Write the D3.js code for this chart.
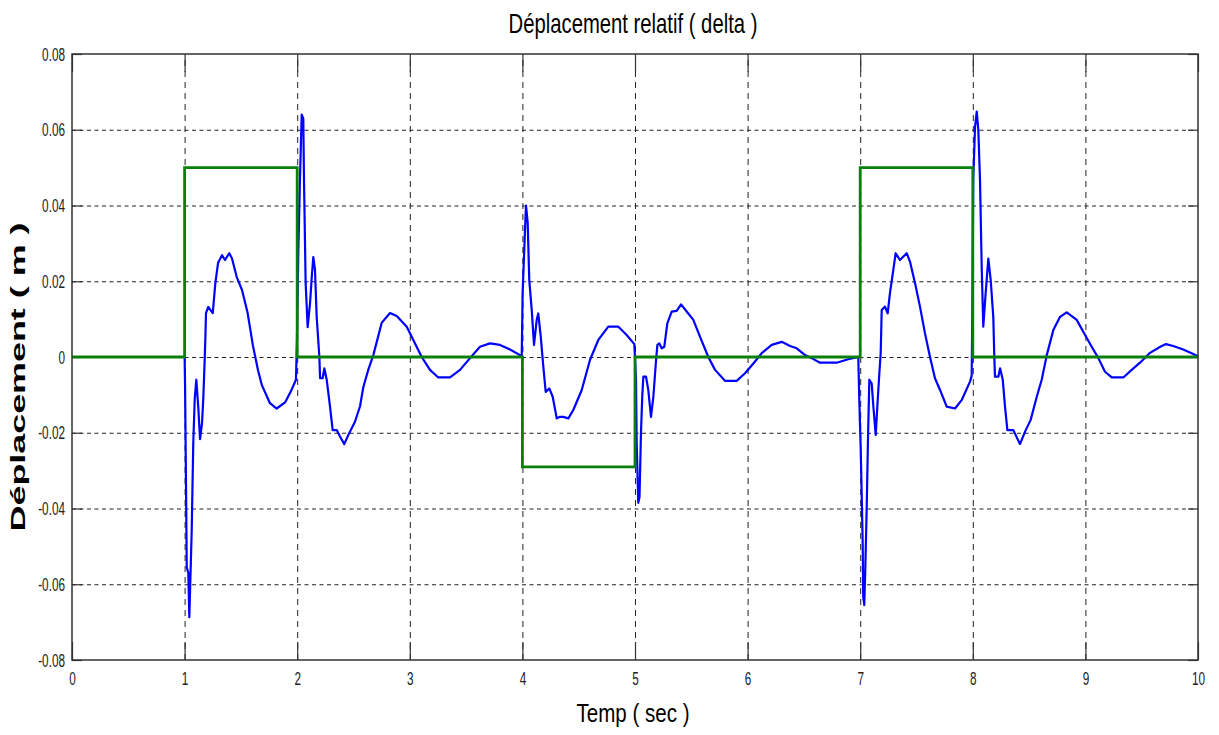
<!DOCTYPE html>
<html>
<head>
<meta charset="utf-8">
<title>Déplacement relatif</title>
<script src="https://cdn.jsdelivr.net/npm/d3@7"></script>
<style>
    html, body { margin: 0; padding: 0; background: #fff; }
    svg.main { display: block; font-family: Arial, "Liberation Sans", sans-serif; }
</style>
</head>
<body>
<svg class="main" width="1219" height="735"></svg>
<script>
    // ticks
    var xTicks = [0, 1, 2, 3, 4, 5, 6, 7, 8, 9, 10];
    var yTicks = [-0.08, -0.06, -0.04, -0.02, 0, 0.02, 0.04, 0.06, 0.08];
    var yTickLabels = ["-0.08", "-0.06", "-0.04", "-0.02", "0", "0.02", "0.04", "0.06", "0.08"];

    // consigne (vert)
    var stepTime  = [0, 1, 1, 2, 2, 4, 4, 5, 5, 7, 7, 8, 8, 10];
    var stepValue = [0, 0, 0.05, 0.05, 0, 0, -0.029, -0.029, 0, 0, 0.05, 0.05, 0, 0];

    // deplacement relatif (bleu)
    var respTime = [0, 1.0, 1.004, 1.012, 1.019, 1.033, 1.042, 1.063, 1.077, 1.090, 1.104, 1.122, 1.137, 1.155, 1.166,
        1.178, 1.184, 1.190, 1.210, 1.250, 1.273, 1.297, 1.332, 1.359, 1.397, 1.421, 1.463, 1.510, 1.560, 1.607,
        1.652, 1.687, 1.758, 1.818, 1.892, 1.945, 1.989, 1.998, 2.010, 2.025, 2.040, 2.054, 2.060, 2.075, 2.093,
        2.114, 2.129, 2.143, 2.158, 2.173, 2.197, 2.203, 2.226, 2.241, 2.262, 2.291, 2.315, 2.351, 2.380, 2.418,
        2.454, 2.513, 2.558, 2.587, 2.631, 2.676, 2.750, 2.824, 2.884, 2.973, 3.031, 3.106, 3.179, 3.253, 3.357,
        3.446, 3.535, 3.623, 3.712, 3.801, 3.890, 3.979, 3.994, 4.002, 4.023, 4.032, 4.047, 4.061, 4.083, 4.103,
        4.127, 4.141, 4.163, 4.186, 4.207, 4.239, 4.269, 4.305, 4.334, 4.363, 4.408, 4.452, 4.527, 4.600, 4.674,
        4.763, 4.852, 4.926, 4.994, 5.009, 5.015, 5.029, 5.040, 5.053, 5.065, 5.074, 5.098, 5.118, 5.142, 5.163,
        5.187, 5.199, 5.216, 5.237, 5.260, 5.287, 5.326, 5.370, 5.409, 5.459, 5.518, 5.577, 5.651, 5.711, 5.799,
        5.903, 5.977, 6.051, 6.125, 6.214, 6.303, 6.377, 6.436, 6.510, 6.569, 6.643, 6.791, 6.894, 6.983, 6.992,
        7.004, 7.013, 7.022, 7.027, 7.036, 7.045, 7.058, 7.069, 7.081, 7.102, 7.117, 7.138, 7.152, 7.170, 7.182,
        7.191, 7.220, 7.244, 7.264, 7.294, 7.315, 7.353, 7.413, 7.442, 7.487, 7.531, 7.575, 7.620, 7.664, 7.709,
        7.768, 7.842, 7.901, 7.975, 7.990, 7.997, 8.004, 8.020, 8.035, 8.049, 8.064, 8.079, 8.093, 8.114, 8.138,
        8.159, 8.182, 8.191, 8.197, 8.227, 8.242, 8.266, 8.286, 8.307, 8.360, 8.419, 8.464, 8.514, 8.568, 8.612,
        8.657, 8.715, 8.775, 8.834, 8.923, 8.997, 9.056, 9.115, 9.174, 9.234, 9.337, 9.411, 9.485, 9.574, 9.665,
        9.716, 9.780, 9.869, 9.943, 10];
    var respValue = [0, 0, -0.007, -0.0325, -0.0555, -0.057, -0.0687, -0.046, -0.0227, -0.011, -0.006, -0.0135, -0.0217, -0.0174, -0.011,
        -0.001, 0.0045, 0.0116, 0.0132, 0.0116, 0.0195, 0.0248, 0.0269, 0.0256, 0.0274, 0.026, 0.0211, 0.0177, 0.0116, 0.003,
        -0.0035, -0.0075, -0.0122, -0.0136, -0.012, -0.009, -0.006, 0.005, 0.028, 0.0475, 0.064, 0.063, 0.0475, 0.0195, 0.0079,
        0.0142, 0.021, 0.0264, 0.023, 0.0106, 0, -0.0056, -0.0056, -0.003, -0.006, -0.013, -0.0193, -0.0193, -0.021, -0.023,
        -0.0206, -0.0171, -0.013, -0.008, -0.0034, 0.0005, 0.009, 0.0116, 0.0108, 0.008, 0.0045, 0, -0.0034, -0.0054, -0.0054,
        -0.0034, -0.0003, 0.0027, 0.0036, 0.0032, 0.002, 0.0005, 0, 0.0169, 0.0335, 0.040, 0.0354, 0.0203, 0.0124, 0.0032,
        0.0098, 0.0115, 0.0054, -0.0026, -0.0092, -0.0083, -0.0105, -0.0162, -0.0158, -0.0158, -0.0162, -0.014, -0.0087, -0.0008, 0.0045,
        0.008, 0.008, 0.0058, 0.0034, -0.006, -0.0227, -0.0385, -0.037, -0.02, -0.01, -0.0052, -0.0052, -0.0087, -0.0158, -0.0105,
        -0.0008, 0.0032, 0.0036, 0.0023, 0.0027, 0.0089, 0.012, 0.0122, 0.0139, 0.012, 0.0098, 0.0054, 0, -0.0034, -0.0063,
        -0.0063, -0.0043, -0.0017, 0.001, 0.0032, 0.004, 0.0029, 0.0023, 0.0005, -0.0003, -0.0015, -0.0015, -0.0006, 0, -0.0114,
        -0.0237, -0.036, -0.049, -0.0633, -0.0655, -0.0562, -0.0395, -0.0219, -0.006, -0.007, -0.0131, -0.0206, -0.0131, -0.0043, 0.001,
        0.0124, 0.0133, 0.0115, 0.0168, 0.023, 0.0274, 0.0256, 0.0274, 0.0252, 0.0195, 0.0133, 0.0063, 0, -0.0056, -0.0087,
        -0.0131, -0.0136, -0.0114, -0.0065, -0.005, 0.015, 0.0467, 0.0608, 0.0648, 0.060, 0.0467, 0.0238, 0.008, 0.0168, 0.026,
        0.0203, 0.0106, 0, -0.0052, -0.0052, -0.003, -0.006, -0.0131, -0.0193, -0.0193, -0.023, -0.0197, -0.0166, -0.0105, -0.006,
        0.0005, 0.0071, 0.0106, 0.0118, 0.0098, 0.0058, 0.0027, -0.0003, -0.0039, -0.0054, -0.0054, -0.0034, -0.0015, 0.0011, 0.0027,
        0.0034, 0.0029, 0.002, 0.001, 0.0002];

    var svg = d3.select("svg.main");
    var plotL = 72, plotR = 1198, plotT = 54, plotB = 660;
    var squeezeTicks = 0.62;

    var x = d3.scaleLinear().domain([0, 10]).range([plotL, plotR]);
    var y = d3.scaleLinear().domain([-0.08, 0.08]).range([plotB, plotT]);

    // grille
    var grid = svg.append("g");
    grid.append("g")
        .attr("transform", "translate(0," + plotB + ")")
        .call(d3.axisBottom(x).tickValues(xTicks.slice(1, -1)).tickSize(-(plotB - plotT)).tickFormat(""))
        .call(function (g) {
            g.select(".domain").remove();
            g.selectAll("line").attr("stroke", "#222").attr("stroke-dasharray", "6,5");
        });
    grid.append("g")
        .attr("transform", "translate(" + plotL + ",0)")
        .call(d3.axisLeft(y).tickValues(yTicks.slice(1, -1)).tickSize(-(plotR - plotL)).tickFormat(""))
        .call(function (g) {
            g.select(".domain").remove();
            g.selectAll("line").attr("stroke", "#222").attr("stroke-dasharray", "4,3.5");
        });

    // axes (graduations vers l'interieur)
    var axB = svg.append("g").attr("transform", "translate(0," + plotB + ")")
        .call(d3.axisBottom(x).tickValues(xTicks).tickSizeInner(-18).tickSizeOuter(0).tickPadding(12)
            .tickFormat(function (d) { return String(d); }));
    var axL = svg.append("g").attr("transform", "translate(" + plotL + ",0)")
        .call(d3.axisLeft(y).tickValues(yTicks).tickSizeInner(-10).tickSizeOuter(0).tickPadding(7)
            .tickFormat(function (d, i) { return yTickLabels[i]; }));
    svg.append("g").attr("transform", "translate(0," + plotT + ")")
        .call(d3.axisTop(x).tickValues(xTicks).tickSizeInner(-18).tickSizeOuter(0).tickFormat(""));
    svg.append("g").attr("transform", "translate(" + plotR + ",0)")
        .call(d3.axisRight(y).tickValues(yTicks).tickSizeInner(-10).tickSizeOuter(0).tickFormat(""));

    svg.selectAll(".domain").remove();
    svg.selectAll(".tick line").filter(function () { return !this.getAttribute("stroke-dasharray"); })
        .attr("stroke", "#333").attr("stroke-width", 1.2);

    axB.selectAll("text").attr("font-size", 19).attr("fill", "#222")
        .attr("font-family", "Arial, 'Liberation Sans', sans-serif")
        .attr("transform", "scale(" + squeezeTicks + ",1)");
    axL.selectAll("text").attr("font-size", 19).attr("fill", "#222")
        .attr("font-family", "Arial, 'Liberation Sans', sans-serif")
        .attr("x", -7 / squeezeTicks)
        .attr("transform", "scale(" + squeezeTicks + ",1)");

    // courbes
    var lineGen = d3.line()
        .x(function (d) { return x(d[0]); })
        .y(function (d) { return y(d[1]); });

    var resp = respTime.map(function (t, i) { return [t, respValue[i]]; });
    var step = stepTime.map(function (t, i) { return [t, stepValue[i]]; });

    svg.append("path").datum(resp)
        .attr("fill", "none").attr("stroke", "#0000ff").attr("stroke-width", 2.2)
        .attr("stroke-linejoin", "round")
        .attr("d", lineGen);
    svg.append("path").datum(step)
        .attr("fill", "none").attr("stroke", "#0a800a").attr("stroke-width", 2.8)
        .attr("d", lineGen);

    // cadre
    svg.append("rect")
        .attr("x", plotL).attr("y", plotT).attr("width", plotR - plotL).attr("height", plotB - plotT)
        .attr("fill", "none").attr("stroke", "#333").attr("stroke-width", 1.5);

    // textes (etires comme dans la figure)
    function fitted(txt, cx, cy, size, width, rotate, weight) {
        var t = svg.append("text").text(txt)
            .attr("text-anchor", "middle")
            .attr("font-size", size)
            .attr("font-weight", weight || "normal")
            .attr("fill", "#000");
        var k = width / t.node().getComputedTextLength();
        t.attr("transform", "translate(" + cx + "," + cy + ")" + (rotate ? " rotate(-90)" : "") + " scale(" + k + ",1)");
        return t;
    }

    fitted("Déplacement relatif ( delta )", 633, 33, 27, 249, false);
    fitted("Temp ( sec )", 633, 722, 26, 113, false);
    fitted("Déplacement ( m )", 25, 377, 21, 309, true, "bold");
</script>
</body>
</html>
